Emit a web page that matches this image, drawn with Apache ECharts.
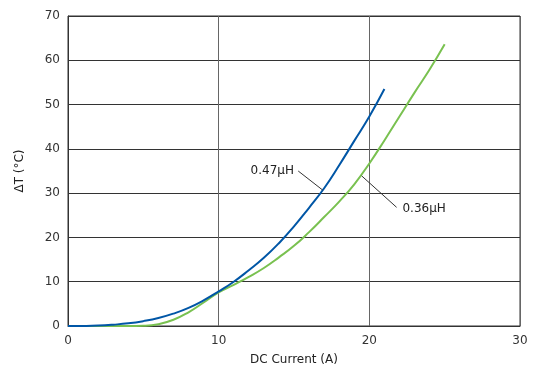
<!DOCTYPE html>
<html>
<head>
<meta charset="utf-8">
<script src="https://cdn.jsdelivr.net/npm/echarts@6/dist/echarts.min.js"></script>
<style>
html,body{margin:0;padding:0;background:#fff;}
#c{width:536px;height:367px;}
</style>
</head>
<body>
<div id="c"></div>
<script>
// Data
const xTicks = [0, 10, 20, 30];
const yTicks = [0, 10, 20, 30, 40, 50, 60, 70];
const seriesNames = ['0.47\u00b5H', '0.36\u00b5H'];
const currentA = [0,1,2,3,4,5,6,7,8,9,10,11,12,13,14,15,16,17,18,19,20,21];
const dT047 = [0,0.02,0.1,0.3,0.6,1.1,1.8,2.8,4.1,5.8,7.8,10.0,12.6,15.4,18.7,22.5,26.7,31.1,36.3,41.8,47.3,53.5];
const currentB = [0,1,2,3,4,5,6,7,8,9,10,11,12,13,14,15,16,17,18,19,20,21,22,23,24,25];
const dT036 = [0,0,0,0,0,0.05,0.4,1.4,3.1,5.3,7.6,9.3,11.1,13.1,15.5,18.1,21.2,24.6,28.1,32.0,36.7,41.9,47.3,52.7,57.9,63.6];
// annotation anchors in data units: [labelX, labelY, lineStartX, lineStartY, lineEndX, lineEndY]
const annot047 = [15.0, 35.0, 15.28, 35.0, 16.9, 30.7];
const annot036 = [22.2, 26.4, 19.49, 33.9, 21.81, 26.8];

const chart = echarts.init(document.getElementById('c'), null, {renderer: 'canvas'});
const font = 'DejaVu Sans';
const option = {
  animation: false,
  grid: {left: 68, right: 16, top: 16, bottom: 41, show: true, borderColor: '#333', borderWidth: 1,
         containLabel: false, outerBoundsMode: 'none'},
  xAxis: {
    type: 'value', min: xTicks[0], max: xTicks[xTicks.length-1], interval: 10,
    name: 'DC Current (A)', nameLocation: 'middle', nameGap: 28,
    nameTextStyle: {fontFamily: font, fontSize: 12, color: '#222'},
    axisLine: {show: true, lineStyle: {color: '#333'}},
    axisTick: {show: false},
    axisLabel: {fontFamily: font, fontSize: 12, color: '#333', margin: 9},
    splitLine: {show: true, lineStyle: {color: '#666', width: 1}}
  },
  yAxis: {
    type: 'value', min: yTicks[0], max: yTicks[yTicks.length-1], interval: 10,
    name: '\u0394T (\u00b0C)', nameLocation: 'middle', nameGap: 42,
    nameTextStyle: {fontFamily: font, fontSize: 12, color: '#222'},
    axisLine: {show: true, lineStyle: {color: '#333'}},
    axisTick: {show: false},
    axisLabel: {fontFamily: font, fontSize: 12, color: '#333', margin: 8},
    splitLine: {show: true, lineStyle: {color: '#333', width: 1}}
  },
  series: [
    {name: seriesNames[0], type: 'line', smooth: 0.5, symbol: 'none',
     lineStyle: {color: '#0056a6', width: 2}, z: 3,
     data: currentA.map((x, i) => [x, dT047[i]])},
    {name: seriesNames[1], type: 'line', smooth: 0.5, symbol: 'none',
     lineStyle: {color: '#79c150', width: 2}, z: 2,
     data: currentB.map((x, i) => [x, dT036[i]])}
  ]
};
chart.setOption(option);

function px(x, y){ return chart.convertToPixel({gridIndex: 0}, [x, y]); }
const a1 = px(annot047[0], annot047[1]), s1 = px(annot047[2], annot047[3]), e1 = px(annot047[4], annot047[5]);
const a2 = px(annot036[0], annot036[1]), s2 = px(annot036[2], annot036[3]), e2 = px(annot036[4], annot036[5]);
chart.setOption({
  graphic: [
    {type: 'line', shape: {x1: s1[0], y1: s1[1], x2: e1[0], y2: e1[1]}, style: {stroke: '#333', lineWidth: 1}, z: 10},
    {type: 'line', shape: {x1: s2[0], y1: s2[1], x2: e2[0], y2: e2[1]}, style: {stroke: '#333', lineWidth: 1}, z: 10},
    {type: 'text', x: a1[0], y: a1[1], style: {text: seriesNames[0], font: '12px "DejaVu Sans"', fill: '#222', align: 'right', verticalAlign: 'middle'}, z: 10},
    {type: 'text', x: a2[0], y: a2[1], style: {text: seriesNames[1], font: '12px "DejaVu Sans"', fill: '#222', align: 'left', verticalAlign: 'middle'}, z: 10}
  ]
});
</script>
</body>
</html>
